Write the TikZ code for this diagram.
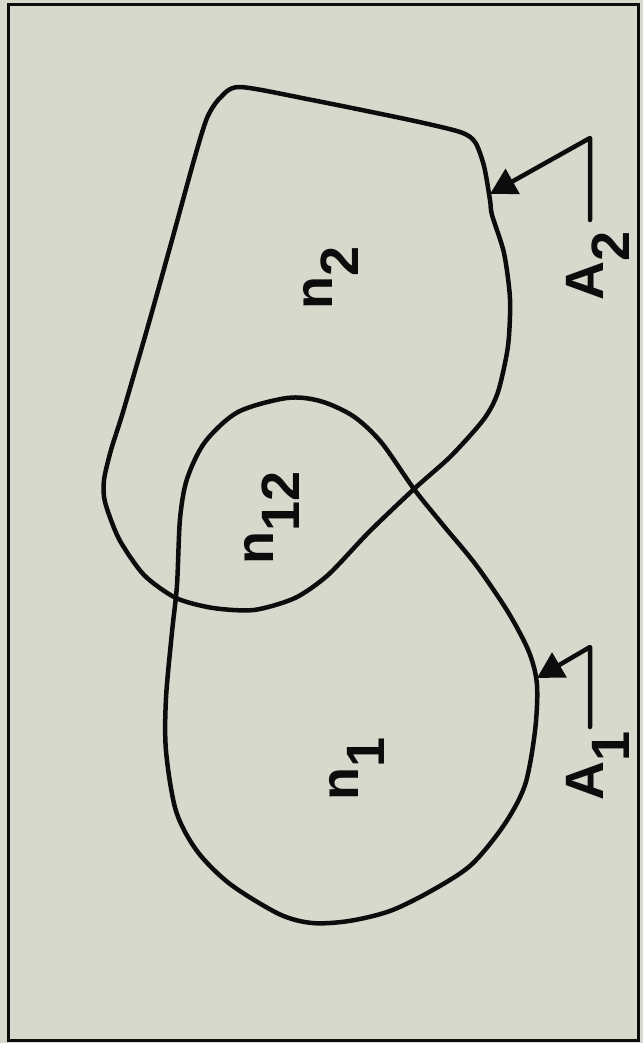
\documentclass[tikz,border=0pt]{standalone}
\usepackage{fontspec}
\setmainfont{Liberation Sans}
\usetikzlibrary{arrows.meta}
\definecolor{paper}{RGB}{216,217,205}
\definecolor{ink}{RGB}{12,12,12}
\newcommand\lowsub[1]{\raisebox{-26pt}{#1}}
\begin{document}
\begin{tikzpicture}[x=1pt,y=-1pt,
  outline/.style={draw=ink,line width=4.5pt,line join=round},
  lbl/.style={rotate=90,anchor=base west,inner sep=0pt,text=ink,
    font=\fontsize{54}{54}\selectfont\bfseries},
  pointer/.style={draw=ink,line width=4.5pt,line cap=round,line join=round,
    -{Triangle[length=26pt,width=28pt]}}]
\fill[paper] (0,0) rectangle (643,1043);
\useasboundingbox (0,0) rectangle (643,1043);
\draw[ink,line width=3pt] (8,5) rectangle (638,1040);
% region 2
\draw[outline] plot[smooth cycle,tension=0.45] coordinates {
 (240,87) (312,100) (410,120) (460,132) (475,142) (484,166) (490,200)
 (492,215) (504,253) (510,299) (508,346) (498,392) (484,419) (451,456)
 (414,489) (369,532) (328,575) (295,598) (254,610) (213,608) (176,598)
 (144,575) (119,539) (105,502) (104,480) (111,450) (123,412) (148,326)
 (172,240) (194,160) (207,118) (220,98)};
% region 1
\draw[outline] plot[smooth cycle,tension=0.5] coordinates {
 (287,398) (320,401) (353,416) (381,442) (414,489) (443,525) (476,565)
 (508,612) (529,652) (537,685) (535,731) (525,785) (504,825) (471,865)
 (431,891) (390,911) (349,921) (312,923) (279,914) (230,884) (197,851)
 (176,811) (166,751) (166,698) (172,632) (177,585) (180,519) (187,479)
 (205,442) (238,412)};
% pointers
\coordinate (a2b) at (590,220);
\coordinate (a2v) at (590,138);
\coordinate (a2t) at (490,194);
\coordinate (a1b) at (590,727);
\coordinate (a1v) at (590,647);
\coordinate (a1t) at (537,678);
\draw[pointer] (a2b) -- (a2v) -- (a2t);
\draw[pointer] (a1b) -- (a1v) -- (a1t);
% labels
\node[lbl] (n2) at (332,310) {n\lowsub{2}};
\node[lbl] (n12) at (273,565) {n\lowsub{12}};
\node[lbl] (n1) at (358,801) {n\lowsub{1}};
\node[lbl] (A2) at (603,301) {A\lowsub{2}};
\node[lbl] (A1) at (603,801) {A\lowsub{1}};
\end{tikzpicture}
\end{document}
